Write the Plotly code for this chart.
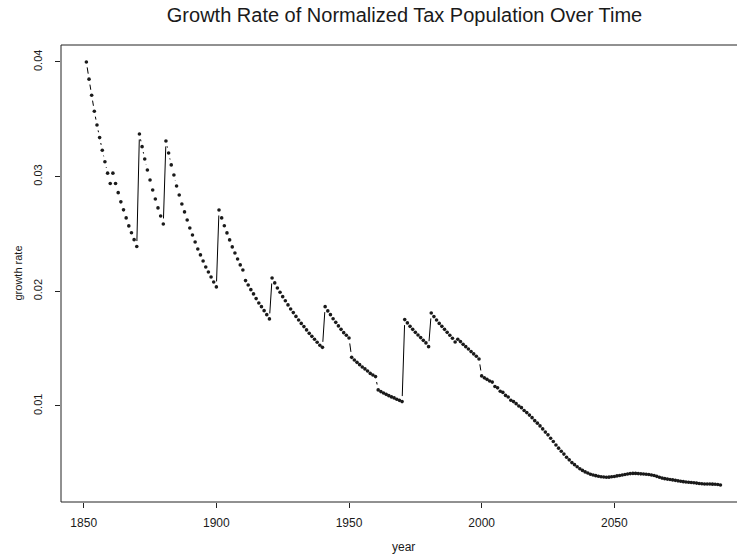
import math
import plotly.graph_objects as go

# ---------------- data ----------------
first_year = 1851
last_year = 2090

rate_1851_1870 = [0.0400, 0.0385, 0.0371, 0.0357, 0.0345, 0.0334, 0.0323, 0.0313, 0.0303, 0.0294,
                  0.0303, 0.0294, 0.0286, 0.0278, 0.0271, 0.0264, 0.0257, 0.0251, 0.0245, 0.0239]
rate_1871_1880 = [0.03372, 0.03261, 0.03154, 0.03058, 0.02971, 0.02883, 0.02805, 0.02727, 0.02657, 0.02587]
rate_1881_1900 = [0.03311, 0.03206, 0.03102, 0.03014, 0.02918, 0.02840, 0.02761, 0.02692, 0.02622, 0.02552,
                  0.02491, 0.02430, 0.02369, 0.02317, 0.02264, 0.02212, 0.02168, 0.02125, 0.02081, 0.02038]
rate_1901_1920 = [0.02709, 0.02640, 0.02572, 0.02509, 0.02448, 0.02387, 0.02334, 0.02282, 0.02230, 0.02186,
                  0.02093, 0.02055, 0.02014, 0.01977, 0.01936, 0.01898, 0.01866, 0.01831, 0.01796, 0.01759]
rate_1921_1940 = [0.02116, 0.02073, 0.02029, 0.01991, 0.01953, 0.01918, 0.01881, 0.01846, 0.01814, 0.01781,
                  0.01750, 0.01720, 0.01692, 0.01663, 0.01633, 0.01607, 0.01581, 0.01555, 0.01529, 0.01511]
rate_1941_1950 = [0.01866, 0.01829, 0.01796, 0.01761, 0.01729, 0.01698, 0.01668, 0.01639, 0.01616, 0.01593]
rate_1951_1960 = [0.01424, 0.01401, 0.01380, 0.01360, 0.01340, 0.01323, 0.01305, 0.01284, 0.01270, 0.01256]
rate_1961_1970 = [0.01140, 0.01125, 0.01113, 0.01101, 0.01090, 0.01079, 0.01070, 0.01058, 0.01049, 0.01038]
rate_1971_1980 = [0.01753, 0.01724, 0.01694, 0.01668, 0.01642, 0.01619, 0.01596, 0.01572, 0.01550, 0.01517]
rate_1981_1990 = [0.01811, 0.01779, 0.01750, 0.01720, 0.01694, 0.01668, 0.01642, 0.01616, 0.01590, 0.01558]
rate_1991_1999 = [0.01581, 0.01561, 0.01537, 0.01517, 0.01497, 0.01474, 0.01454, 0.01433, 0.01410]
rate_2000_2090 = [0.01262, 0.01245, 0.01232, 0.01218, 0.01208, 0.01170, 0.01158, 0.01128, 0.01118, 0.01092,
                  0.01078, 0.01050, 0.01038, 0.01020, 0.01000, 0.00985, 0.00960, 0.00942, 0.00920, 0.00898,
                  0.00872, 0.00850, 0.00826, 0.00800, 0.00772, 0.00748, 0.00718, 0.00690, 0.00660, 0.00632,
                  0.00605, 0.00580, 0.00552, 0.00530, 0.00506, 0.00488, 0.00470, 0.00452, 0.00438, 0.00425,
                  0.00415, 0.00405, 0.00398, 0.00392, 0.00387, 0.00383, 0.00380, 0.00378, 0.00379, 0.00382,
                  0.00385, 0.00390, 0.00394, 0.00398, 0.00402, 0.00406, 0.00410, 0.00412, 0.00412, 0.00410,
                  0.00408, 0.00406, 0.00404, 0.00402, 0.00398, 0.00393, 0.00386, 0.00378, 0.00371, 0.00366,
                  0.00362, 0.00358, 0.00355, 0.00351, 0.00347, 0.00343, 0.00340, 0.00337, 0.00334, 0.00332,
                  0.00330, 0.00327, 0.00324, 0.00322, 0.00320, 0.00319, 0.00319, 0.00318, 0.00317, 0.00315,
                  0.00310]

x_tick_values = [1850, 1900, 1950, 2000, 2050]
x_tick_labels = ["1850", "1900", "1950", "2000", "2050"]
y_tick_values = [0.01, 0.02, 0.03, 0.04]
y_tick_labels = ["0.01", "0.02", "0.03", "0.04"]

title_text = "Growth Rate of Normalized Tax Population Over Time"
x_title = "year"
y_title = "growth rate"

# ---------------- assemble ----------------
rates = (rate_1851_1870 + rate_1871_1880 + rate_1881_1900 + rate_1901_1920 + rate_1921_1940
         + rate_1941_1950 + rate_1951_1960 + rate_1961_1970 + rate_1971_1980 + rate_1981_1990
         + rate_1991_1999 + rate_2000_2090)
years = list(range(first_year, last_year + 1))
assert len(years) == len(rates), (len(years), len(rates))

W, H = 737, 559
ML, MR, MT, MB = 61, 0, 45, 57
plot_w = W - ML - MR
plot_h = H - MT - MB

# R-style axis extension (4% each side)
xpad = 0.04 * (max(years) - min(years))
ypad = 0.04 * (max(rates) - min(rates))
x0 = min(years) - xpad
x_full = max(years) + xpad
px_per_year = 684.8 / (x_full - x0)     # full R plot region is wider than the window
x1 = x0 + plot_w / px_per_year
y0 = min(rates) - ypad
y1 = max(rates) + ypad

kx = plot_w / (x1 - x0)
ky = plot_h / (y1 - y0)

# type="b" style segments: lines with gaps around points
gap = 5.5
seg_x, seg_y = [], []
for i in range(len(years) - 1):
    xa, ya, xb, yb = years[i], rates[i], years[i + 1], rates[i + 1]
    dxp = (xb - xa) * kx
    dyp = (yb - ya) * ky
    d = math.hypot(dxp, dyp)
    if d > 2 * gap:
        f = gap / d
        seg_x += [xa + f * (xb - xa), xb - f * (xb - xa), None]
        seg_y += [ya + f * (yb - ya), yb - f * (yb - ya), None]

fig = go.Figure()
fig.add_trace(go.Scatter(x=seg_x, y=seg_y, mode="lines",
                         line=dict(color="#000000", width=1), hoverinfo="skip",
                         showlegend=False))
fig.add_trace(go.Scatter(x=years, y=rates, mode="markers",
                         marker=dict(color="#1a1a1a", size=3.6, line=dict(width=0)),
                         showlegend=False))

font_family = "Liberation Sans, Arial, Helvetica, sans-serif"

fig.update_layout(
    width=W, height=H,
    margin=dict(l=ML, r=MR, t=MT, b=MB, pad=0),
    paper_bgcolor="white", plot_bgcolor="white",
    font=dict(family=font_family, color="#1a1a1a"),
    showlegend=False,
    title=dict(text=title_text, xref="paper", yref="container",
               x=(404.5 - ML) / plot_w, xanchor="center",
               y=1 - 14.5 / H, yanchor="middle",
               font=dict(size=20, family=font_family, color="#1a1a1a")),
    xaxis=dict(range=[x0, x1], showgrid=False, zeroline=False, showline=False,
               tickmode="array", tickvals=x_tick_values, ticktext=x_tick_labels,
               ticks="outside", ticklen=5, tickwidth=1, tickcolor="#222222",
               tickfont=dict(size=12, family=font_family, color="#1a1a1a"),
               ticklabelstandoff=5),
    yaxis=dict(range=[y0, y1], showgrid=False, zeroline=False, showline=False,
               tickmode="array", tickvals=y_tick_values, ticktext=y_tick_labels,
               ticks="outside", ticklen=5, tickwidth=1, tickcolor="#222222",
               tickangle=-90,
               tickfont=dict(size=11, family=font_family, color="#1a1a1a"),
               ticklabelstandoff=9),
    shapes=[dict(type="rect", xref="paper", yref="paper", x0=0, x1=1.05, y0=0, y1=1,
                 line=dict(color="#222222", width=1), fillcolor="rgba(0,0,0,0)",
                 layer="above")],
    annotations=[
        dict(text=x_title, xref="paper", yref="paper",
             x=(403.4 - ML) / plot_w, y=-(547 - (MT + plot_h)) / plot_h,
             xanchor="center", yanchor="middle", showarrow=False,
             font=dict(size=12, family=font_family, color="#1a1a1a")),
        dict(text=y_title, xref="paper", yref="paper",
             x=-(ML - 17) / plot_w, y=0.5, textangle=-90,
             xanchor="center", yanchor="middle", showarrow=False,
             font=dict(size=11, family=font_family, color="#1a1a1a")),
    ],
)

fig.write_html("out.html")
